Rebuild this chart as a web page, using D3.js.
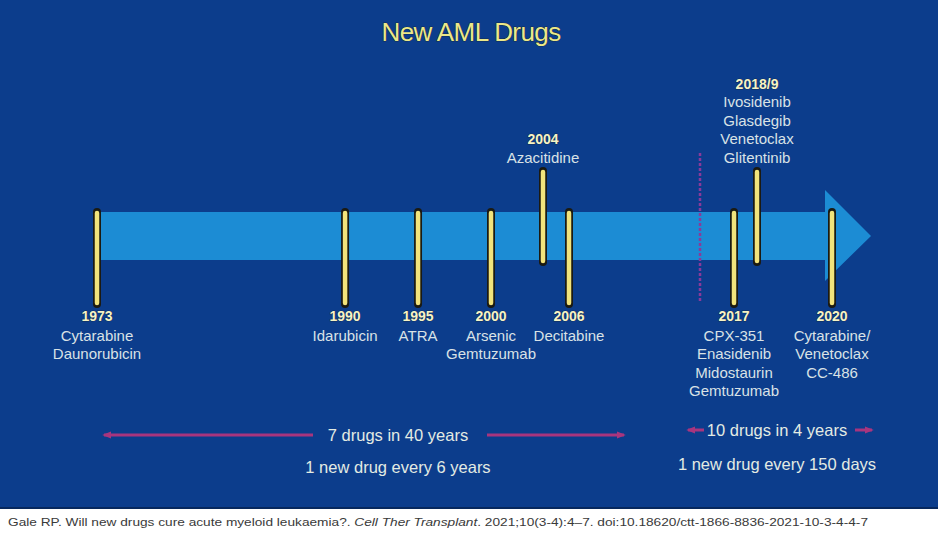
<!DOCTYPE html>
<html>
<meta charset="utf-8">
<head>
  <title>New AML Drugs</title>
</head>
<style>
body { margin: 0; background: #fff; }
text { font-family: "Liberation Sans", Arial, sans-serif; }
</style>
<body>
  <svg width="938" height="542"></svg>

<script src="https://d3js.org/d3.v7.min.js"></script>
<script>
var width = 938, height = 542

// events on the timeline
var years = ["1973", "1990", "1995", "2000", "2004", "2006", "2017", "2018/9", "2020"]
var yearValues = [1973, 1990, 1995, 2000, 2004, 2006, 2017, 2018.5, 2020]
var sides = ["below", "below", "below", "below", "above", "below", "below", "above", "below"]
var drugs = [
  ["Cytarabine", "Daunorubicin"],
  ["Idarubicin"],
  ["ATRA"],
  ["Arsenic", "Gemtuzumab"],
  ["Azacitidine"],
  ["Decitabine"],
  ["CPX-351", "Enasidenib", "Midostaurin", "Gemtuzumab"],
  ["Ivosidenib", "Glasdegib", "Venetoclax", "Glitentinib"],
  ["Cytarabine/", "Venetoclax", "CC-486"]
]

// summary notes under the timeline
var periodLabels = ["7 drugs in 40 years", "10 drugs in 4 years"]
var periodRates = ["1 new drug every 6 years", "1 new drug every 150 days"]

var title = "New AML Drugs"
var citeA = "Gale RP. Will new drugs cure acute myeloid leukaemia?. "
var citeB = "Cell Ther Transplant"
var citeC = ". 2021;10(3-4):4\u20137. doi:10.18620/ctt-1866-8836-2021-10-3-4-4-7"

var events = years.map(function(y, i) {
  return {year: y, value: yearValues[i], side: sides[i], drugs: drugs[i]}
})

// the time axis is stretched after 2017, so use a piecewise scale
var x = d3.scaleLinear()
  .domain([1973, 2000, 2006, 2017, 2018.5, 2020])
  .range([97, 491, 569, 734, 757, 832])

var svg = d3.select('svg')

var bg = '#0c3d8c', arrowCol = '#1c8cd4', yellow = '#f2e47c'
var magenta = '#a8357e'

svg.append('rect')
  .attr('width', width).attr('height', 507)
  .attr('fill', bg)
svg.append('rect')
  .attr('y', 507).attr('width', width).attr('height', 2)
  .attr('fill', '#07285e')

// title
svg.append('text')
  .attr('x', 471).attr('y', 41)
  .attr('text-anchor', 'middle')
  .attr('font-size', 26)
  .attr('fill', '#ebe88a')
  .attr('stroke', '#1a1a10').attr('stroke-width', 0.7)
  .attr('paint-order', 'stroke')
  .style('letter-spacing', '-0.6px')
  .text(title)

// big arrow
var bodyTop = 212, bodyBot = 260, headX = x(2020) - 7, tipX = x(2020) + 39
svg.append('path')
  .attr('d', d3.line()([
    [x(1973), bodyTop], [headX, bodyTop], [headX, 190], [tipX, 236],
    [headX, 281], [headX, bodyBot], [x(1973), bodyBot]
  ]) + 'Z')
  .attr('fill', arrowCol)

// dashed divider between the two eras
svg.append('line')
  .attr('x1', 700).attr('x2', 700)
  .attr('y1', 153).attr('y2', 302)
  .attr('stroke', '#8a3a9a')
  .attr('stroke-width', 2.5)
  .attr('stroke-dasharray', '3,2')

// event ticks
var g = svg.selectAll('g.event')
  .data(events)
  .enter()
  .append('g')
  .attr('class', 'event')
  .attr('transform', function(d) { return 'translate(' + x(d.value) + ',0)' })

function tickY(d) { return d.side == 'above' ? [171, 262] : [212, 304] }

g.append('line')
  .attr('y1', function(d) { return tickY(d)[0] })
  .attr('y2', function(d) { return tickY(d)[1] })
  .attr('stroke', '#1b1a12')
  .attr('stroke-width', 8)
  .attr('stroke-linecap', 'round')
g.append('line')
  .attr('y1', function(d) { return tickY(d)[0] + 1 })
  .attr('y2', function(d) { return tickY(d)[1] - 1 })
  .attr('stroke', yellow)
  .attr('stroke-width', 4.5)
  .attr('stroke-linecap', 'round')

var lineH = 18.6

g.append('text')
  .attr('text-anchor', 'middle')
  .attr('y', function(d) {
    return d.side == 'above' ? 163 - d.drugs.length * lineH : 321
  })
  .attr('font-size', 14)
  .attr('font-weight', 'bold')
  .attr('fill', '#f6f3c6')
  .attr('stroke', '#1a1a10').attr('stroke-width', 0.5)
  .attr('paint-order', 'stroke')
  .text(function(d) { return d.year })

g.each(function(d) {
  var base = d.side == 'above' ? 163 - (d.drugs.length - 1) * lineH : 340.5
  d3.select(this).selectAll('text.drug')
    .data(d.drugs)
    .enter()
    .append('text')
    .attr('class', 'drug')
    .attr('text-anchor', 'middle')
    .attr('y', function(t, i) { return base + i * lineH })
    .attr('font-size', 15)
    .attr('fill', '#d9e2e6')
    .text(function(t) { return t })
})

// era summaries
var defs = svg.append('defs')
defs.append('marker')
  .attr('id', 'head')
  .attr('viewBox', '0 0 10 10')
  .attr('refX', 8).attr('refY', 5)
  .attr('markerWidth', 3).attr('markerHeight', 3)
  .attr('orient', 'auto-start-reverse')
  .append('path')
  .attr('d', 'M0,1L10,5L0,9Z')
  .attr('fill', magenta)

var spans = [
  {label: periodLabels[0], rate: periodRates[0], cx: 398, ly: 441, ry: 473,
   left: [104, 313], right: [487, 624]},
  {label: periodLabels[1], rate: periodRates[1], cx: 777, ly: 436, ry: 470,
   left: [688, 704], right: [855, 872]}
]

spans.forEach(function(s) {
  svg.append('line')
    .attr('x1', s.left[1]).attr('x2', s.left[0])
    .attr('y1', s.ly - 6).attr('y2', s.ly - 6)
    .attr('stroke', magenta).attr('stroke-width', 3)
    .attr('marker-end', 'url(#head)')
  svg.append('line')
    .attr('x1', s.right[0]).attr('x2', s.right[1])
    .attr('y1', s.ly - 6).attr('y2', s.ly - 6)
    .attr('stroke', magenta).attr('stroke-width', 3)
    .attr('marker-end', 'url(#head)')
  svg.append('text')
    .attr('x', s.cx).attr('y', s.ly)
    .attr('text-anchor', 'middle')
    .attr('font-size', 16.5)
    .attr('fill', '#e3ebe3')
    .text(s.label)
  svg.append('text')
    .attr('x', s.cx).attr('y', s.ry)
    .attr('text-anchor', 'middle')
    .attr('font-size', 16.5)
    .attr('fill', '#e3ebe3')
    .text(s.rate)
})

// citation
var cite = svg.append('text')
  .attr('x', 8).attr('y', 526)
  .attr('font-size', 11)
  .attr('fill', '#3a3a3a')
  .attr('textLength', 860)
  .attr('lengthAdjust', 'spacingAndGlyphs')
cite.append('tspan').text(citeA)
cite.append('tspan').attr('font-style', 'italic').text(citeB)
cite.append('tspan').text(citeC)
</script>
</body>
</html>
